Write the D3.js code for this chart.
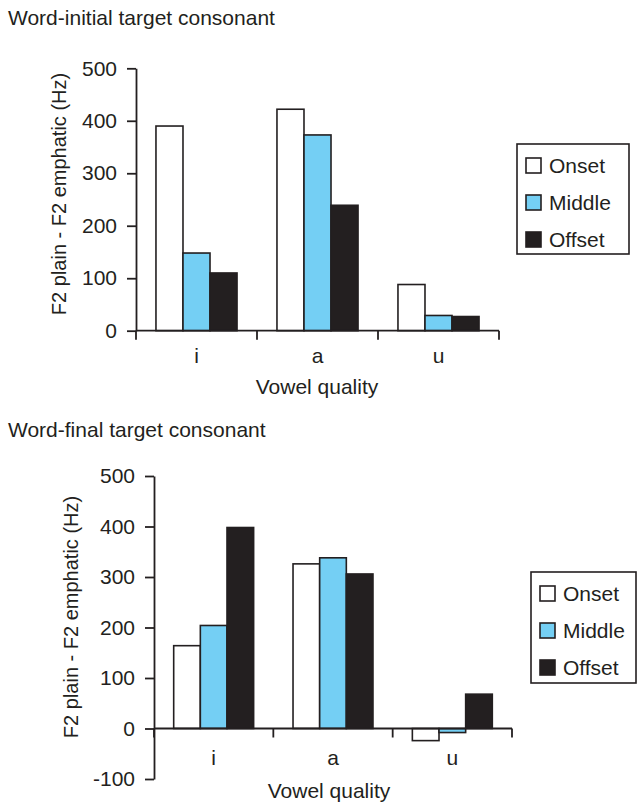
<!DOCTYPE html>
<html>
<head>
<meta charset="utf-8">
<script src="https://cdn.jsdelivr.net/npm/d3@7"></script>
<style>
  body { margin: 0; background: #fff; }
  svg text { font-family: "Liberation Sans", Arial, sans-serif; fill: #231f20; }
</style>
</head>
<body>
<div id="chart"></div>
<script>
// categories / series
const vowels = ["i", "a", "u"];
const seriesNames = ["Onset", "Middle", "Offset"];
const seriesColors = ["#ffffff", "#74cff4", "#231f20"];

// word-initial values (Hz), one array per series, in vowel order
const initialOnset = [390, 422, 88];
const initialMiddle = [148, 373, 29];
const initialOffset = [110, 239, 27];
const initialTicks = [0, 100, 200, 300, 400, 500];

// word-final values (Hz)
const finalOnset = [164, 326, -24];
const finalMiddle = [204, 338, -8];
const finalOffset = [398, 306, 68];
const finalTicks = [-100, 0, 100, 200, 300, 400, 500];

const ink = "#231f20";
const fs = "21px";

const svg = d3
  .select("#chart")
  .append("svg")
  .attr("width", 638)
  .attr("height", 805);

const drawPanel = (opts) => {
  const g = svg.append("g");
  const rows = vowels.map((v, i) => ({
    vowel: v,
    values: opts.series.map((s, k) => ({ key: seriesNames[k], value: s[i] })),
  }));

  // x: one band per vowel
  var x = d3.scaleBand().domain(vowels).range([opts.left, opts.right]);
  var bw = x.bandwidth();
  var x1 = d3
    .scaleBand()
    .domain(seriesNames)
    .range([bw * 0.165, bw * 0.835]);

  var y = d3
    .scaleLinear()
    .domain(d3.extent(opts.ticks))
    .range([opts.bottom, opts.top]);

  // title
  g.append("text")
    .attr("x", 8)
    .attr("y", opts.titleY)
    .style("font-size", fs)
    .text(opts.title);

  // bars
  g.selectAll(".grp")
    .data(rows)
    .enter()
    .append("g")
    .attr("transform", (d) => "translate(" + x(d.vowel) + ",0)")
    .selectAll("rect")
    .data((d) => d.values)
    .enter()
    .append("rect")
    .attr("x", (d) => x1(d.key))
    .attr("y", (d) => y(Math.max(0, d.value)))
    .attr("width", x1.bandwidth())
    .attr("height", (d) => Math.abs(y(d.value) - y(0)))
    .attr("fill", (d) => seriesColors[seriesNames.indexOf(d.key)])
    .attr("stroke", ink)
    .attr("stroke-width", 1.6);

  // y axis (plain hyphen for negatives, as in the original)
  const yAxis = g
    .append("g")
    .attr("transform", "translate(" + opts.left + ",0)")
    .call(
      d3
        .axisLeft(y)
        .tickValues(opts.ticks)
        .tickFormat((d) => String(d))
        .tickSize(9)
        .tickSizeOuter(0)
        .tickPadding(10)
    );
  yAxis.select(".domain").attr("stroke", ink).attr("stroke-width", 1.8);
  yAxis.selectAll(".tick line").attr("stroke", ink).attr("stroke-width", 1.8);
  yAxis
    .selectAll(".tick text")
    .style("font-size", fs)
    .style("font-family", '"Liberation Sans", Arial, sans-serif')
    .attr("fill", ink);

  // x axis at zero
  const y0 = y(0);
  g.append("line")
    .attr("x1", opts.left)
    .attr("x2", opts.right)
    .attr("y1", y0)
    .attr("y2", y0)
    .attr("stroke", ink)
    .attr("stroke-width", 1.8);
  const bounds = vowels.map((v) => x(v)).concat([opts.right]);
  g.selectAll(".xtick")
    .data(bounds)
    .enter()
    .append("line")
    .attr("x1", (d) => d)
    .attr("x2", (d) => d)
    .attr("y1", y0)
    .attr("y2", y0 + 9)
    .attr("stroke", ink)
    .attr("stroke-width", 1.8);
  g.selectAll(".xlab")
    .data(vowels)
    .enter()
    .append("text")
    .attr("x", (d) => x(d) + bw / 2)
    .attr("y", opts.xLabelY)
    .attr("text-anchor", "middle")
    .style("font-size", fs)
    .text((d) => d);

  g.append("text")
    .attr("x", opts.xTitleCenter)
    .attr("y", opts.xTitleY)
    .attr("text-anchor", "middle")
    .style("font-size", fs)
    .text("Vowel quality");

  g.append("text")
    .attr("transform", "rotate(-90)")
    .attr("x", -opts.yTitleCenter)
    .attr("y", opts.yTitleX)
    .attr("text-anchor", "middle")
    .style("font-size", "20px")
    .text("F2 plain - F2 emphatic (Hz)");

  // legend
  const lg = g.append("g").attr("transform", "translate(" + opts.legend.x + "," + opts.legend.y + ")");
  lg.append("rect")
    .attr("width", opts.legend.w)
    .attr("height", opts.legend.h)
    .attr("fill", "#fff")
    .attr("stroke", ink)
    .attr("stroke-width", 1.6);
  const item = lg
    .selectAll(".item")
    .data(seriesNames)
    .enter()
    .append("g")
    .attr("transform", (d, i) => "translate(9," + (21 + i * 37) + ")");
  item
    .append("rect")
    .attr("x", 0)
    .attr("y", -7)
    .attr("width", 15)
    .attr("height", 15)
    .attr("fill", (d, i) => seriesColors[i])
    .attr("stroke", ink)
    .attr("stroke-width", 1.6);
  item
    .append("text")
    .attr("x", 23)
    .attr("y", 8)
    .style("font-size", fs)
    .text((d) => d);
};

drawPanel({
  title: "Word-initial target consonant",
  titleY: 25,
  series: [initialOnset, initialMiddle, initialOffset],
  ticks: initialTicks,
  left: 136,
  right: 499,
  top: 68.3,
  bottom: 330.7,
  xLabelY: 363,
  xTitleY: 394,
  xTitleCenter: 317,
  yTitleX: 66,
  yTitleCenter: 194,
  legend: { x: 517, y: 144, w: 112, h: 110 },
});

drawPanel({
  title: "Word-final target consonant",
  titleY: 437,
  series: [finalOnset, finalMiddle, finalOffset],
  ticks: finalTicks,
  left: 154,
  right: 512,
  top: 476,
  bottom: 779,
  xLabelY: 765,
  xTitleY: 798,
  xTitleCenter: 329,
  yTitleX: 78,
  yTitleCenter: 617,
  legend: { x: 531, y: 572, w: 105, h: 111 },
});
</script>
</body>
</html>
